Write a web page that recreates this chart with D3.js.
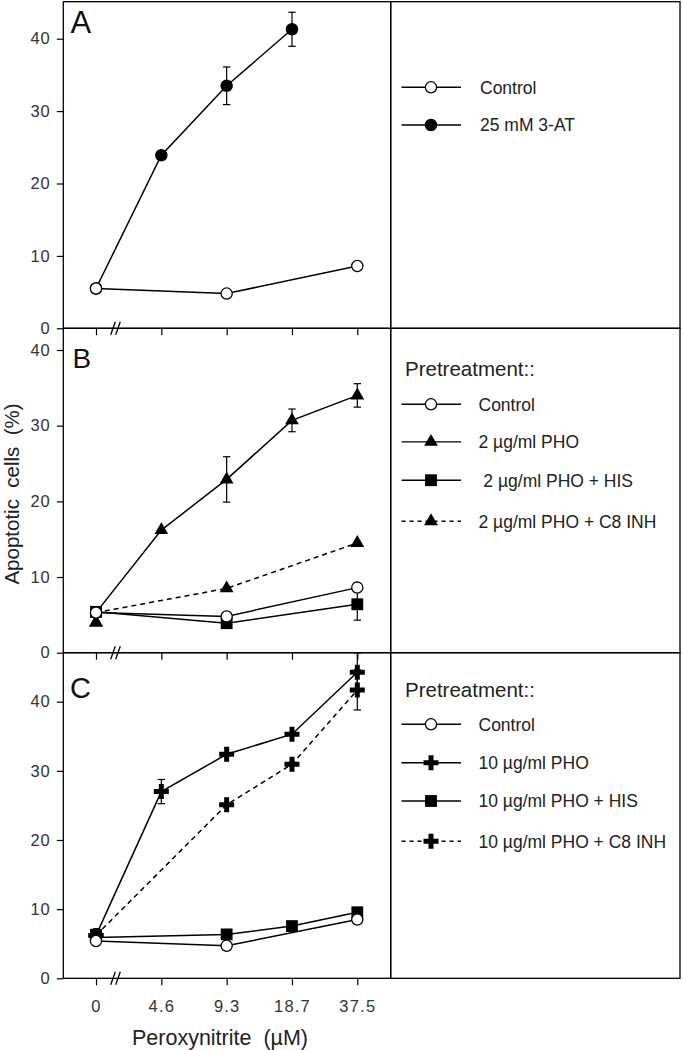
<!DOCTYPE html>
<html>
<head>
<meta charset="utf-8">
<script src="https://cdn.jsdelivr.net/npm/d3@7"></script>
<style>
  html, body { margin: 0; padding: 0; background: #fff; }
  svg { display: block; font-family: "Liberation Sans", Arial, sans-serif; }
</style>
</head>
<body>
<svg id="chart" width="683" height="1050"></svg>
<script>
// ---------- data ----------
const xCats = ["0", "4.6", "9.3", "18.7", "37.5"];
const yTicks = [0, 10, 20, 30, 40];

// Panel A
const aControl = [5.5, null, 4.8, null, 8.6];
const a3AT     = [5.5, 23.9, 33.5, 41.3, null];
const a3ATErr  = [0, 0, 2.6, 2.35, 0];

// Panel B
const bControl = [5.3, null, 4.8, null, 8.6];
const bPHO     = [4.0, 16.2, 22.9, 30.7, 34.0];
const bPHOErr  = [0, 0, 3.0, 1.5, 1.55];
const bHIS     = [5.4, null, 3.9, null, 6.4];
const bHISErr  = [0, 0, 0, 0, 2.1];
const bINH     = [4.0, null, 8.5, null, 14.5];
const bLineOrigin = 5.3;

// Panel C
const cControl = [5.4, null, 4.7, null, 8.5];
const cPHO     = [6.2, 27.0, 32.4, 35.3, 44.25];
const cPHOErr  = [0, 1.75, 0, 0, 2.8];
const cHIS     = [6.3, null, 6.35, 7.55, 9.55];
const cHISOrigin = 5.9;
const cINH     = [6.2, null, 25.1, 30.95, 41.7];
const cINHErr  = [0, 0, 0, 0, 2.9];

const legendA = ["Control", "25 mM 3-AT"];
const legendB = ["Control", "2 µg/ml PHO", " 2 µg/ml PHO + HIS", "2 µg/ml PHO + C8 INH"];
const legendC = ["Control", "10 µg/ml PHO", "10 µg/ml PHO + HIS", "10 µg/ml PHO + C8 INH"];
const legendTitle = "Pretreatment::";
const panelLetters = ["A", "B", "C"];
const xTitle = "Peroxynitrite  (µM)";
const yTitle = "Apoptotic  cells  (%)";

// ---------- layout ----------
const svg = d3.select("#chart");
const left = 63.3, mid = 390.7, right = 680;
const x = d3.scalePoint().domain(xCats).range([96, 357.3]);
const FONT = "'Liberation Sans', Arial, sans-serif";

const panels = [
  { top: 1.7, y0: 328.3, y40: 38.7, letter: panelLetters[0], letterX: 70.5, letterY: 33.3, letterSize: 31,
    series: [
      { vals: a3AT, err: a3ATErr, sym: "circleFilled", dash: null },
      { vals: aControl, sym: "circleOpen", dash: null }
    ],
    legend: { title: null, labels: legendA, syms: ["circleOpen", "circleFilled"], dashes: [null, null], ys: [87.3, 125], textX: [480, 480] },
    xLabels: false },
  { top: 328.3, y0: 652.7, y40: 350, letter: panelLetters[1], letterX: 72.5, letterY: 368.3, letterSize: 28,
    series: [
      { vals: bINH, sym: "triangle", dash: "5,4", origin: bLineOrigin },
      { vals: bPHO, err: bPHOErr, sym: "triangle", dash: null, origin: bLineOrigin },
      { vals: bHIS, err: bHISErr, sym: "square", dash: null },
      { vals: bControl, sym: "circleOpen", dash: null }
    ],
    legend: { title: legendTitle, titleY: 376, labels: legendB, syms: ["circleOpen", "triangle", "square", "triangle"], dashes: [null, null, null, "4,4"], ys: [404.3, 441.9, 480.2, 521.2], textX: [478.5, 478.5, 478.5, 478.5] },
    xLabels: false },
  { top: 652.7, y0: 978.3, y40: 701.7, letter: panelLetters[2], letterX: 70, letterY: 698.3, letterSize: 29,
    series: [
      { vals: cINH, err: cINHErr, sym: "cross", dash: "5,4" },
      { vals: cPHO, err: cPHOErr, sym: "cross", dash: null },
      { vals: cHIS, sym: "square", dash: null, origin: cHISOrigin },
      { vals: cControl, sym: "circleOpen", dash: null }
    ],
    legend: { title: legendTitle, titleY: 697, labels: legendC, syms: ["circleOpen", "cross", "square", "cross"], dashes: [null, null, null, "4,4"], ys: [724.3, 762.7, 801, 841.2], textX: [478.5, 478.5, 478.5, 478.5] },
    xLabels: true }
];

function drawSymbol(g, type, cx, cy) {
  if (type === "circleOpen" || type === "circleFilled") {
    g.append("circle").attr("cx", cx).attr("cy", cy).attr("r", 5.6)
      .attr("fill", type === "circleOpen" ? "#fff" : "#000")
      .attr("stroke", "#000").attr("stroke-width", 1.3);
  } else if (type === "triangle") {
    g.append("path").attr("transform", `translate(${cx},${cy})`)
      .attr("d", d3.symbol(d3.symbolTriangle, 82)()).attr("fill", "#000");
  } else if (type === "square") {
    g.append("path").attr("transform", `translate(${cx},${cy})`)
      .attr("d", d3.symbol(d3.symbolSquare, 140)()).attr("fill", "#000");
  } else if (type === "cross") {
    g.append("path").attr("transform", `translate(${cx},${cy})`)
      .attr("d", d3.symbol(d3.symbolCross, 125)()).attr("fill", "#000");
  }
}

panels.forEach((p, pi) => {
  const y = d3.scaleLinear().domain([0, 40]).range([p.y0, p.y40]);
  const g = svg.append("g");

  // frames
  g.append("rect").attr("x", left).attr("y", p.top).attr("width", mid - left).attr("height", p.y0 - p.top)
    .attr("fill", "none").attr("stroke", "#000").attr("stroke-width", 1.3);
  g.append("rect").attr("x", mid).attr("y", p.top).attr("width", right - mid).attr("height", p.y0 - p.top)
    .attr("fill", "none").attr("stroke", "#000").attr("stroke-width", 1.3);

  // y axis
  const ya = g.append("g").attr("transform", `translate(${left},0)`)
    .call(d3.axisLeft(y).tickValues(yTicks).tickSize(6.5).tickPadding(6))
    .attr("font-size", null).attr("font-family", null);
  ya.select(".domain").remove();
  ya.selectAll("line").attr("stroke", "#000").attr("stroke-width", 1.2);
  ya.selectAll("text").style("font-size", "16.5px").attr("fill", "#333").attr("letter-spacing", 1)
    .style("font-family", FONT);

  // x axis
  const xa = g.append("g").attr("transform", `translate(0,${p.y0})`)
    .call(d3.axisBottom(x).tickSize(7).tickPadding(15).tickFormat(p.xLabels ? (d => d) : () => ""))
    .attr("font-size", null).attr("font-family", null);
  xa.select(".domain").remove();
  xa.selectAll("line").attr("stroke", "#000").attr("stroke-width", 1.2);
  xa.selectAll("text").style("font-size", "16.5px").attr("fill", "#333").attr("letter-spacing", 1.2)
    .style("font-family", FONT);

  // axis break
  const bx = 116.5;
  [-3.5, 1.5].forEach(o => {
    g.append("line").attr("x1", bx + o - 2.3).attr("y1", p.y0 + 6.5).attr("x2", bx + o + 2.3).attr("y2", p.y0 - 6.5)
      .attr("stroke", "#000").attr("stroke-width", 1.3);
  });

  // panel letter
  g.append("text").attr("x", p.letterX).attr("y", p.letterY).attr("font-size", p.letterSize)
    .attr("fill", "#111").text(p.letter);

  // lines
  p.series.forEach(s => {
    const pts = s.vals.map((v, i) => ({ c: xCats[i], v: (i === 0 && s.origin != null) ? s.origin : v }))
      .filter(d => d.v != null);
    g.append("path").datum(pts)
      .attr("d", d3.line().x(d => x(d.c)).y(d => y(d.v)))
      .attr("fill", "none").attr("stroke", "#000").attr("stroke-width", 1.5)
      .attr("stroke-dasharray", s.dash);
  });

  // error bars
  p.series.forEach(s => {
    if (!s.err) return;
    s.vals.forEach((v, i) => {
      const e = s.err[i];
      if (v == null || !e) return;
      const cx = x(xCats[i]);
      const yt = Math.max(y(v + e), p.top), yb = y(v - e);
      g.append("line").attr("x1", cx).attr("x2", cx).attr("y1", yt).attr("y2", yb)
        .attr("stroke", "#000").attr("stroke-width", 1.2);
      [yt, yb].forEach(yy => g.append("line").attr("x1", cx - 3.7).attr("x2", cx + 3.7)
        .attr("y1", yy).attr("y2", yy).attr("stroke", "#000").attr("stroke-width", 1.2));
    });
  });

  // markers
  p.series.forEach(s => {
    s.vals.forEach((v, i) => {
      if (v == null) return;
      drawSymbol(g, s.sym, x(xCats[i]), y(v));
    });
  });

  // legend
  const L = p.legend;
  if (L.title) {
    g.append("text").attr("x", 405).attr("y", L.titleY).attr("font-size", 20.5)
      .attr("fill", "#222").text(L.title);
  }
  L.labels.forEach((lab, i) => {
    const ly = L.ys[i];
    g.append("line").attr("x1", 401.5).attr("x2", 461).attr("y1", ly).attr("y2", ly)
      .attr("stroke", "#000").attr("stroke-width", 1.4).attr("stroke-dasharray", L.dashes[i]);
    drawSymbol(g, L.syms[i], 431, ly);
    g.append("text").attr("x", L.textX[i]).attr("y", ly).attr("dy", "0.36em")
      .attr("font-size", 17.5).attr("fill", "#222").style("white-space", "pre").text(lab);
  });
});

// axis titles
svg.append("text").attr("x", 220).attr("y", 1045).attr("text-anchor", "middle")
  .attr("font-size", 21.5).attr("fill", "#222").style("white-space", "pre").text(xTitle);
svg.append("text").attr("transform", "translate(19,494) rotate(-90)").attr("text-anchor", "middle")
  .attr("font-size", 20.5).attr("fill", "#222").style("white-space", "pre").text(yTitle);
</script>
</body>
</html>
